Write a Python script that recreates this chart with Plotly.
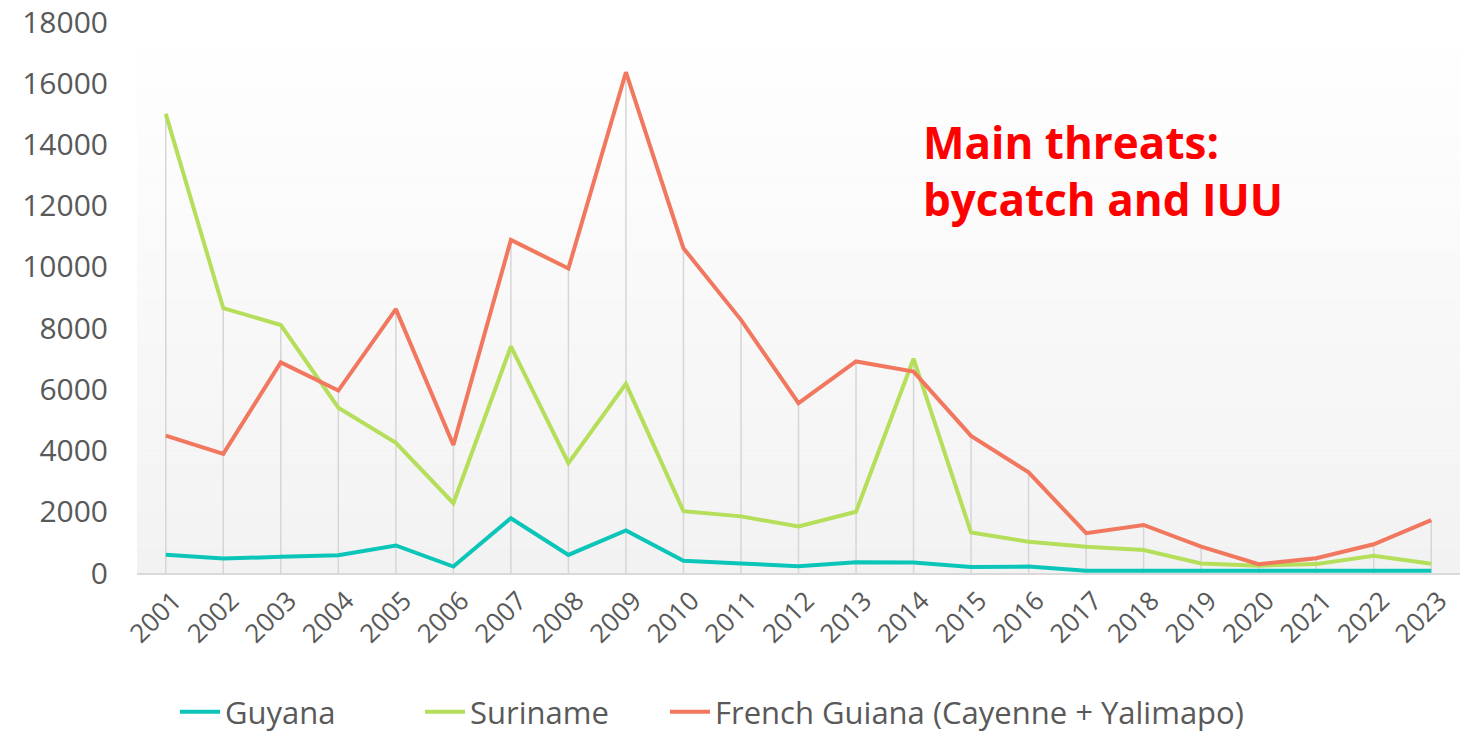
import plotly.graph_objects as go

years = [str(y) for y in range(2001, 2024)]
guyana = [600, 470, 530, 580, 900, 210, 1790, 590, 1390, 400, 310, 220, 350, 340, 200, 210, 70, 70, 70, 70, 70, 70, 70]
suriname = [15000, 8650, 8100, 5400, 4250, 2280, 7400, 3590, 6180, 2020, 1850, 1520, 2000, 7000, 1320, 1020, 860, 750, 310, 240, 290, 560, 300]
french_guiana = [4490, 3890, 6880, 5960, 8620, 4180, 10880, 9950, 16360, 10610, 8270, 5550, 6910, 6580, 4480, 3290, 1300, 1570, 860, 290, 480, 940, 1730]
series_names = ["Guyana", "Suriname", "French Guiana (Cayenne + Yalimapo)"]
series_colors = ["#0BC6B8", "#B5DE5A", "#F1775E"]
y_ticks = list(range(0, 18001, 2000))
y_tick_labels = [str(v) for v in y_ticks]
annotation_text = "<b>Main threats:<br>bycatch and IUU</b>"

FONT = "Open Sans"
W, H = 1463, 734
fig = go.Figure()

# gradient background for plot area
n = 60
shapes = []
for i in range(n):
    t = i / (n - 1)  # 0 at bottom, 1 at top
    c = int(round(242 + (255 - 242) * t))
    shapes.append(dict(type="rect", xref="paper", yref="paper", x0=0, x1=1,
                       y0=i / n, y1=(i + 1) / n, fillcolor=f"rgb({c},{c},{c})",
                       line=dict(width=0), layer="below"))

# drop lines from max value to axis
dx, dy = [], []
for i, yr in enumerate(years):
    m = max(guyana[i], suriname[i], french_guiana[i])
    dx += [yr, yr, None]
    dy += [0, m, None]
fig.add_trace(go.Scatter(x=dx, y=dy, mode="lines", line=dict(color="#d6d6d6", width=1.5),
                         showlegend=False, hoverinfo="skip"))

legend_ids = ["legend", "legend2", "legend3"]
legend_x_px = [175, 420, 665]
for name, vals, col, lg in zip(series_names, [guyana, suriname, french_guiana], series_colors, legend_ids):
    fig.add_trace(go.Scatter(x=years, y=vals, mode="lines", name=name, legend=lg,
                             line=dict(color=col, width=4)))

fig.add_annotation(text=annotation_text, xref="paper", yref="paper", x=0.5926, y=0.84,
                   xanchor="left", yanchor="top", showarrow=False, align="left",
                   font=dict(family=FONT, size=44, color="#FF0000"))

legend_common = dict(orientation="h", xref="container", yref="container", xanchor="left",
                     y=0.030, yanchor="middle", bgcolor="rgba(0,0,0,0)",
                     font=dict(family=FONT, size=31, color="#595959"), itemwidth=40)

fig.update_layout(
    width=W, height=H,
    margin=dict(l=137, r=3, t=22, b=161),
    paper_bgcolor="white", plot_bgcolor="white",
    shapes=shapes,
    font=dict(family=FONT, color="#595959"),
    showlegend=True,
    legend=dict(x=legend_x_px[0] / W, **legend_common),
    legend2=dict(x=legend_x_px[1] / W, **legend_common),
    legend3=dict(x=legend_x_px[2] / W, **legend_common),
    xaxis=dict(type="category", range=[-0.5, 22.5], tickangle=-45, showgrid=False,
               tickfont=dict(family=FONT, size=26, color="#595959"), automargin=False,
               ticklabelshift=8,
               showline=True, linecolor="#d9d9d9", linewidth=2, ticks=""),
    yaxis=dict(range=[0, 18000], tickvals=y_ticks, ticktext=y_tick_labels, showgrid=False,
               zeroline=False, automargin=False, ticklabeloverflow="allow",
               tickfont=dict(family=FONT, size=30, color="#595959"),
               ticklabelstandoff=28, showline=False),
)

fig.write_html("out.html", config={"displayModeBar": False},
               post_script="document.body.style.margin='0px';")
